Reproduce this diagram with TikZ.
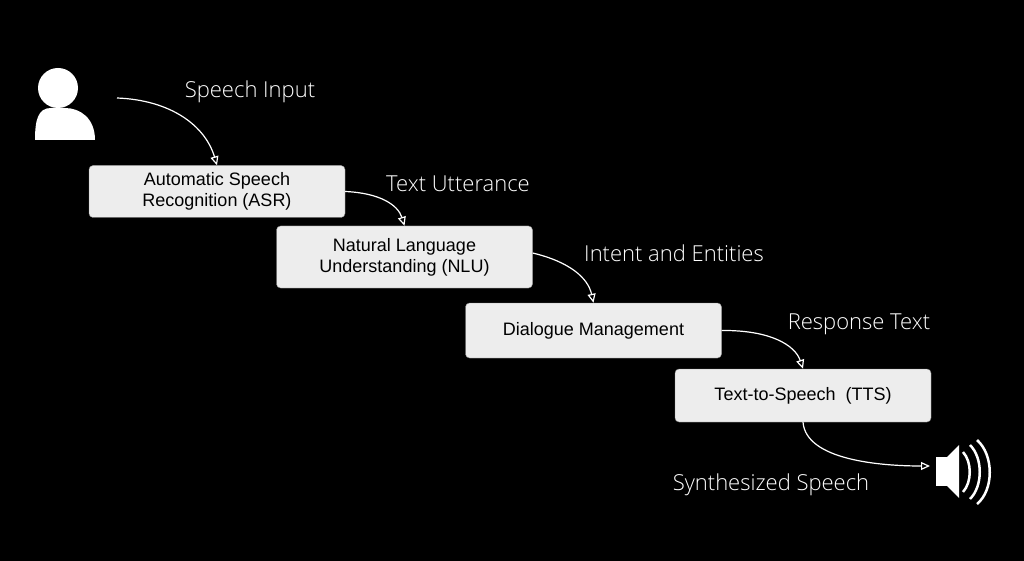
\documentclass[tikz,border=0pt]{standalone}
\usepackage{fontspec}
\setmainfont{Liberation Sans}
\newfontfamily\lblfont{Open Sans Light}
\usetikzlibrary{arrows.meta}
\tikzset{stage/.style={draw=black!45, fill=black!7, rounded corners=4pt, minimum width=256pt, minimum height=52pt, align=center, font=\fontsize{18}{21}\selectfont, text=black},
  flow/.style={white, line width=1.2pt, -{Triangle[open, length=9pt, width=8pt, fill=black]}},
  lbl/.style={text=white, font=\lblfont\fontsize{22}{25}\selectfont}}
\begin{document}
\begin{tikzpicture}[x=1pt,y=-1pt]
  \fill[black] (0,0) rectangle (1024,561);
  \useasboundingbox (0,0) rectangle (1024,561);
  % person
  \fill[white] (58,88) circle (20);
  \fill[white] (35,140) -- (95,140) .. controls (95,118) and (80,108) .. (65,108) -- (51,108) .. controls (38,108) and (35,120) .. (35,140) -- cycle;
  % speaker
  \fill[white] (936,457) rectangle (947,486);
  \fill[white] (947,457) -- (959,445) -- (959,498) -- (947,486) -- cycle;
  \draw[white, line width=2.5pt] (963,452) .. controls (972,462) and (972,482) .. (963,492);
  \draw[white, line width=2.5pt] (970,445) .. controls (983,458) and (983,486) .. (970,499);
  \draw[white, line width=2.5pt] (977,440) .. controls (994,455) and (994,490) .. (977,504);
  \coordinate (user) at (117,98);
  \coordinate (spk) at (930,466);
  \node[stage] (asr) at (217,191.5) {Automatic Speech\\Recognition (ASR)};
  \node[stage, minimum height=62pt] (nlu) at (404.5,257) {Natural Language\\Understanding (NLU)};
  \node[stage, minimum height=55pt] (dm) at (593.5,330.5) {Dialogue Management};
  \node[stage, minimum height=53pt] (tts) at (803,395.5) {Text-to-Speech~~(TTS)};
  \draw[flow] (user) .. controls (170,100) and (205,125) .. (asr.north);
  \draw[flow] (asr.east) .. controls (380,193) and (398,205) .. (nlu.north);
  \draw[flow] ([yshift=4pt]nlu.east) .. controls (570,262) and (588,278) .. (dm.north);
  \draw[flow] (dm.east) .. controls (770,330) and (795,345) .. (tts.north);
  \draw[flow] (tts.south) .. controls (806,460) and (880,466) .. (spk);
  \node[lbl] (l1) at (250,92) {Speech Input};
  \node[lbl] (l2) at (458,184) {Text Utterance};
  \node[lbl] (l3) at (674,253) {Intent and Entities};
  \node[lbl] (l4) at (859,324) {Response Text};
  \node[lbl] (l5) at (771,485) {Synthesized Speech};
\end{tikzpicture}
\end{document}
